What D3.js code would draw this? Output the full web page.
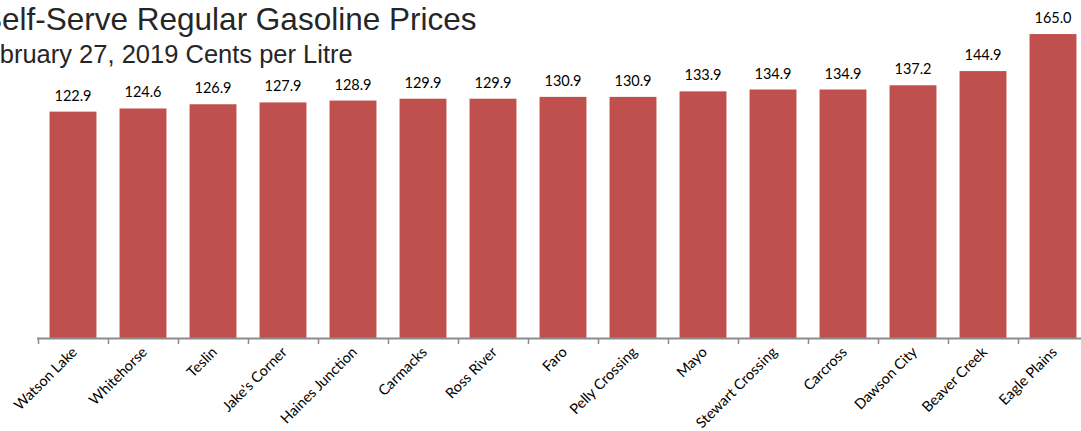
<!DOCTYPE html>
<html><head><meta charset="utf-8">
<script src="https://cdn.jsdelivr.net/npm/d3@7/dist/d3.min.js"></script>
<style>body{margin:0;background:#fff;overflow:hidden}</style>
</head><body>
<svg id="c" width="1081" height="431"></svg>
<script>
const categories = ["Watson Lake","Whitehorse","Teslin","Jake's Corner","Haines Junction","Carmacks","Ross River","Faro","Pelly Crossing","Mayo","Stewart Crossing","Carcross","Dawson City","Beaver Creek","Eagle Plains"];
const prices = [122.9,124.6,126.9,127.9,128.9,129.9,129.9,130.9,130.9,133.9,134.9,134.9,137.2,144.9,165.0];
const titleLines = ["Self-Serve Regular Gasoline Prices","February 27, 2019 Cents per Litre"];

const svg = d3.select("#c");
const baseY = 338;
const x = d3.scaleBand().domain(categories).range([38, 1088]).paddingInner(0.33).paddingOuter(0.165);
const y = d3.scaleLinear().domain([0, 180]).range([baseY, baseY - 180*1.842]);
const off = x.step()*x.paddingInner()/2;

svg.append("g").selectAll("rect").data(categories).join("rect")
  .attr("x", d => x(d)).attr("width", x.bandwidth())
  .attr("y", (d,i) => y(prices[i])).attr("height", (d,i) => baseY - y(prices[i]))
  .attr("fill", "#C0504D");

svg.append("g").selectAll("text").data(categories).join("text")
  .attr("x", d => x(d) + x.bandwidth()/2)
  .attr("y", (d,i) => y(prices[i]) - 11)
  .attr("text-anchor","middle")
  .attr("font-family","Lato, sans-serif").attr("font-size",14.5).attr("fill","#000")
  .text((d,i) => prices[i].toFixed(1));

// axis
const ax = svg.append("g");
ax.append("line").attr("x1", 37).attr("x2", 1081).attr("y1", baseY+0.5).attr("y2", baseY+0.5)
  .attr("stroke","#8c8c8c").attr("stroke-width",2);
const tickXs = categories.map(d => x(d) - off);
ax.selectAll("line.t").data(tickXs).join("line").attr("class","t")
  .attr("x1", d=>d+0.5).attr("x2", d=>d+0.5).attr("y1", baseY).attr("y2", baseY+6)
  .attr("stroke","#8c8c8c").attr("stroke-width",1.5);

ax.selectAll("text").data(categories).join("text")
  .attr("transform", d => `translate(${x(d)+x.bandwidth()/2+5},${baseY+15}) rotate(-45)`)
  .attr("text-anchor","end")
  .attr("font-family","Lato, sans-serif").attr("font-size",14.5).attr("fill","#000")
  .text(d => d);

svg.append("text").attr("x",-19).attr("y",30)
  .attr("font-family","'Liberation Sans', Arial, sans-serif").attr("font-size",31.5).attr("fill","#262626")
  .text(titleLines[0]);
svg.append("text").attr("x",-30).attr("y",63)
  .attr("font-family","'Liberation Sans', Arial, sans-serif").attr("font-size",25.5).attr("fill","#262626")
  .text(titleLines[1]);
</script>
</body></html>
